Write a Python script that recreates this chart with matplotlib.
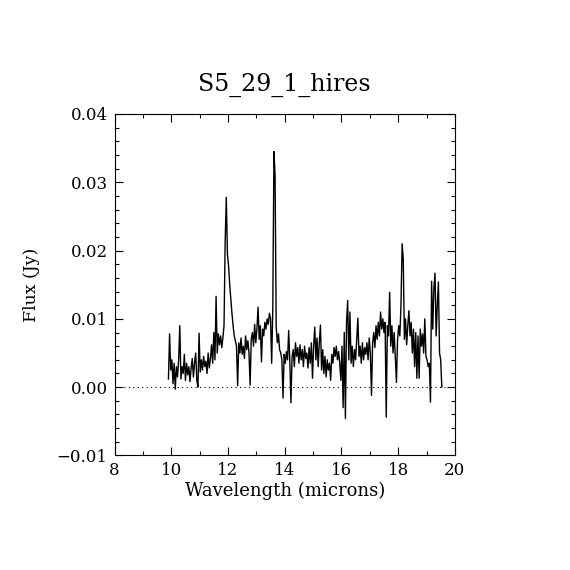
import matplotlib
matplotlib.use("Agg")
import matplotlib.pyplot as plt
from matplotlib.ticker import MultipleLocator

title = "S5_29_1_hires"
xlabel = "Wavelength (microns)"
ylabel = "Flux (Jy)"

wave = [
    9.90, 9.94, 9.98, 10.02, 10.06, 10.10, 10.14, 10.18, 10.22, 10.26,
    10.30, 10.34, 10.38, 10.42, 10.46, 10.50, 10.54, 10.58, 10.62, 10.66,
    10.70, 10.74, 10.78, 10.82, 10.86, 10.90, 10.94, 10.98, 11.02, 11.06,
    11.10, 11.14, 11.18, 11.22, 11.26, 11.30, 11.34, 11.38, 11.42, 11.46,
    11.50, 11.54, 11.58, 11.62, 11.66, 11.70, 11.74, 11.78, 11.82, 11.86,
    11.90, 11.94, 11.98, 12.02, 12.06, 12.10, 12.14, 12.18, 12.22, 12.26,
    12.30, 12.34, 12.38, 12.42, 12.46, 12.50, 12.54, 12.58, 12.62, 12.66,
    12.70, 12.74, 12.78, 12.82, 12.86, 12.90, 12.94, 12.98, 13.02, 13.06,
    13.10, 13.14, 13.18, 13.22, 13.26, 13.30, 13.34, 13.38, 13.42, 13.46,
    13.50, 13.54, 13.58, 13.62, 13.66, 13.70, 13.74, 13.78, 13.82, 13.86,
    13.90, 13.94, 13.98, 14.02, 14.06, 14.10, 14.14, 14.18, 14.22, 14.26,
    14.30, 14.34, 14.38, 14.42, 14.46, 14.50, 14.54, 14.58, 14.62, 14.66,
    14.70, 14.74, 14.78, 14.82, 14.86, 14.90, 14.94, 14.98, 15.02, 15.06,
    15.10, 15.14, 15.18, 15.22, 15.26, 15.30, 15.34, 15.38, 15.42, 15.46,
    15.50, 15.54, 15.58, 15.62, 15.66, 15.70, 15.74, 15.78, 15.82, 15.86,
    15.90, 15.94, 15.98, 16.02, 16.06, 16.10, 16.14, 16.18, 16.22, 16.26,
    16.30, 16.34, 16.38, 16.42, 16.46, 16.50, 16.54, 16.58, 16.62, 16.66,
    16.70, 16.74, 16.78, 16.82, 16.86, 16.90, 16.94, 16.98, 17.02, 17.06,
    17.10, 17.14, 17.18, 17.22, 17.26, 17.30, 17.34, 17.38, 17.42, 17.46,
    17.50, 17.54, 17.58, 17.62, 17.66, 17.70, 17.74, 17.78, 17.82, 17.86,
    17.90, 17.94, 17.98, 18.02, 18.06, 18.10, 18.14, 18.18, 18.22, 18.26,
    18.30, 18.34, 18.38, 18.42, 18.46, 18.50, 18.54, 18.58, 18.62, 18.66,
    18.70, 18.74, 18.78, 18.82, 18.86, 18.90, 18.94, 18.98, 19.02, 19.06,
    19.10, 19.14, 19.18, 19.22, 19.26, 19.30, 19.34, 19.38, 19.42, 19.46,
    19.50, 19.54,
]

flux = [
    0.0012, 0.0078, 0.0025, 0.0040, 0.0005, 0.0035, -0.0003, 0.0030, 0.0015, 0.0040,
    0.0090, 0.0012, 0.0030, 0.0020, 0.0048, 0.0010, 0.0035, 0.0018, 0.0030, 0.0008,
    0.0028, 0.0042, 0.0015, 0.0035, 0.0050, 0.0010, 0.0000, 0.0079, 0.0022, 0.0040,
    0.0025, 0.0045, 0.0030, 0.0038, 0.0020, 0.0050, 0.0028, 0.0042, 0.0062, 0.0035,
    0.0080, 0.0040, 0.0133, 0.0050, 0.0078, 0.0062, 0.0075, 0.0058, 0.0072, 0.0090,
    0.0213, 0.0278, 0.0195, 0.0178, 0.0150, 0.0128, 0.0108, 0.0090, 0.0075, 0.0068,
    0.0060, 0.0002, 0.0065, 0.0050, 0.0072, 0.0048, 0.0060, 0.0042, 0.0075, 0.0055,
    0.0068, 0.0050, 0.0003, 0.0070, 0.0080, 0.0060, 0.0092, 0.0065, 0.0085, 0.0117,
    0.0070, 0.0090, 0.0037, 0.0085, 0.0075, 0.0095, 0.0085, 0.0100, 0.0092, 0.0108,
    0.0100, 0.0035, 0.0118, 0.0345, 0.0310, 0.0088, 0.0065, 0.0078, 0.0055, 0.0050,
    0.0040, -0.0016, 0.0048, 0.0035, 0.0052, 0.0040, 0.0083, 0.0038, -0.0023, 0.0045,
    0.0055, 0.0030, 0.0065, 0.0045, 0.0058, 0.0035, 0.0062, 0.0040, 0.0055, 0.0030,
    0.0060, 0.0042, 0.0050, 0.0028, 0.0058, 0.0035, 0.0065, 0.0013, 0.0060, 0.0088,
    0.0040, 0.0072, 0.0030, 0.0065, 0.0091, 0.0025, 0.0055, 0.0020, 0.0045, 0.0015,
    0.0040, 0.0025, 0.0035, 0.0010, 0.0048, 0.0035, 0.0058, 0.0045, 0.0060, 0.0040,
    0.0052, 0.0035, 0.0010, 0.0060, -0.0030, 0.0080, -0.0046, 0.0095, 0.0127, 0.0040,
    0.0110, 0.0035, 0.0060, 0.0030, 0.0055, 0.0040, 0.0070, 0.0101, 0.0045, 0.0060,
    0.0035, 0.0065, 0.0040, 0.0058, 0.0048, 0.0065, 0.0040, 0.0072, 0.0050, -0.0012,
    0.0065, 0.0080, 0.0058, 0.0090, 0.0070, 0.0095, 0.0075, 0.0110, 0.0085, 0.0100,
    0.0080, 0.0095, -0.0044, 0.0090, 0.0075, 0.0139, 0.0060, 0.0090, 0.0050, 0.0080,
    0.0045, 0.0007, 0.0070, 0.0090, 0.0075, 0.0120, 0.0210, 0.0188, 0.0070, 0.0100,
    0.0062, 0.0090, 0.0112, 0.0075, 0.0095, 0.0050, 0.0085, 0.0030, 0.0080, 0.0013,
    0.0075, 0.0013, 0.0085, 0.0060, 0.0078, 0.0050, 0.0100, 0.0045, 0.0040, 0.0030,
    0.0035, -0.0022, 0.0155, 0.0085, 0.0145, 0.0167, 0.0075, 0.0120, 0.0154, 0.0050,
    0.0040, 0.0000,
]

xlim = (8, 20)
ylim = (-0.01, 0.04)
xticks = [8, 10, 12, 14, 16, 18, 20]
yticks = [-0.01, 0.00, 0.01, 0.02, 0.03, 0.04]
yticklabels = ["\u22120.01", "0.00", "0.01", "0.02", "0.03", "0.04"]

plt.rcParams["font.family"] = ["DejaVu Serif"]

fig = plt.figure(figsize=(5.7, 5.7), dpi=100)
ax = fig.add_axes([0.201, 0.201, 0.597, 0.599])

ax.plot(wave, flux, color="black", linewidth=1.0)
ax.axhline(0.0, color="black", linestyle=(0, (1, 3)), linewidth=0.8)

ax.set_xlim(*xlim)
ax.set_ylim(*ylim)
ax.set_xticks(xticks)
ax.set_xticklabels([str(t) for t in xticks])
ax.set_yticks(yticks)
ax.set_yticklabels(yticklabels)
ax.xaxis.set_minor_locator(MultipleLocator(1))
ax.yaxis.set_minor_locator(MultipleLocator(0.002))

ax.tick_params(which="both", direction="in", top=True, right=True,
               labelsize=12, width=0.8, colors="black")
ax.tick_params(which="major", length=6, pad=5)
ax.tick_params(which="minor", length=3)
for s in ax.spines.values():
    s.set_linewidth(0.8)

ax.set_title(title, fontsize=17, pad=17)
ax.set_xlabel(xlabel, fontsize=13, labelpad=2)
ax.set_ylabel(ylabel, fontsize=12.5, labelpad=12)

fig.savefig("out.png", dpi=100)
